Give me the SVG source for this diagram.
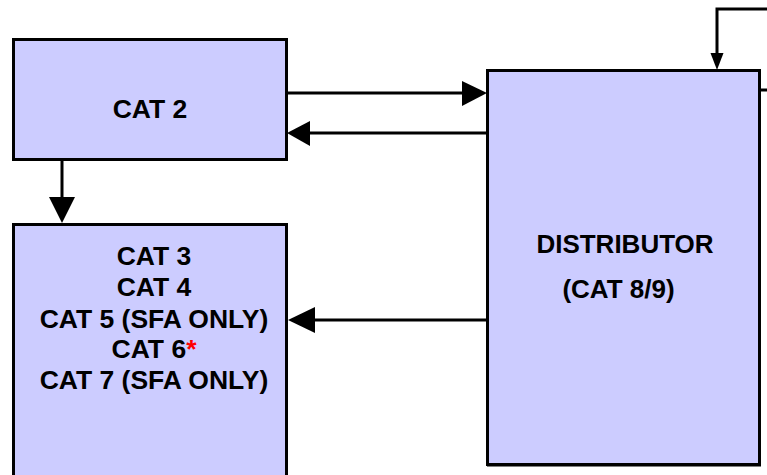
<svg xmlns="http://www.w3.org/2000/svg" width="767" height="475" viewBox="0 0 767 475">
<style>
.box{fill:#CCCCFF;stroke:#000;stroke-width:3}
.t{font-family:"Liberation Sans",Arial,sans-serif;font-weight:bold;font-size:26.5px;fill:#000;text-anchor:middle}
.d{font-size:26px}
.ln{fill:none;stroke:#000;stroke-width:3}
.hd{fill:#000;stroke:none}
.red{fill:#FF0000}
</style>
<rect width="767" height="475" fill="#fff"/>
<g id="cat2">
<rect class="box" x="13.5" y="39.5" width="273" height="120"/>
<text class="t" x="150" y="117.5">CAT 2</text>
</g>
<g id="cat3to7">
<rect class="box" x="13.5" y="224.5" width="273" height="260"/>
<text class="t" x="154" y="265">CAT 3</text>
<text class="t" x="154" y="296">CAT 4</text>
<text class="t" x="154" y="327.5">CAT 5 (SFA ONLY)</text>
<text class="t" x="154" y="358">CAT 6<tspan class="red">*</tspan></text>
<text class="t" x="154" y="388.5">CAT 7 (SFA ONLY)</text>
</g>
<g id="distributor">
<rect class="box" x="487.5" y="70.5" width="272" height="394"/>
<line x1="487" y1="465.5" x2="761" y2="465.5" stroke="#000" stroke-width="2"/>
<text class="t d" x="625" y="253">DISTRIBUTOR</text>
<text class="t d" x="618.5" y="298">(CAT 8/9)</text>
</g>
<g id="connectors">
<line class="ln" x1="287" y1="93" x2="464" y2="93"/>
<polygon class="hd" points="462,81 487,93 462,106"/>
<line class="ln" x1="486" y1="133" x2="308" y2="133"/>
<polygon class="hd" points="287,133 310,121 310,146"/>
<line class="ln" x1="62" y1="160" x2="62" y2="199"/>
<polygon class="hd" points="49,197 75,197 62,223"/>
<line class="ln" x1="489" y1="320" x2="313" y2="320"/>
<polygon class="hd" points="288,320 315,307 315,333"/>
<path class="ln" d="M767,9 H717 V55"/>
<polygon class="hd" points="710.5,53 723.5,53 717,70"/>
<line class="ln" x1="759" y1="90" x2="767" y2="90"/>
</g>
</svg>
